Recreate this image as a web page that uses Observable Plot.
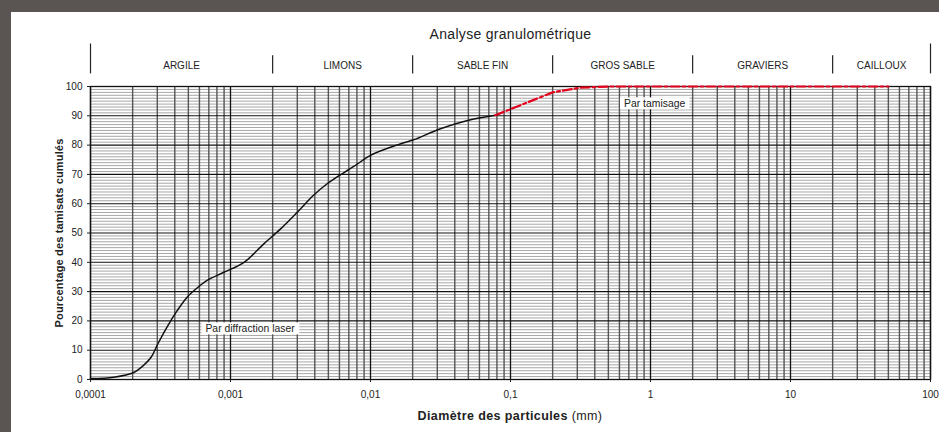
<!DOCTYPE html>
<html><head><meta charset="utf-8">
<script src="https://cdn.jsdelivr.net/npm/d3@7"></script>
<script src="https://cdn.jsdelivr.net/npm/@observablehq/plot@0.6"></script>
<style>
html,body{margin:0;padding:0;background:#fff;overflow:hidden}
#topbar{position:fixed;left:0;top:0;width:1200px;height:12px;background:#5a5552;z-index:2}
#leftbar{position:fixed;left:0;top:0;height:600px;width:11px;background:#5a5552;z-index:2}
#panel{position:fixed;left:11px;top:12px;width:1200px;height:600px;background:#fff}
svg{font-family:"Liberation Sans",Arial,sans-serif}
</style></head><body><div id="topbar"></div><div id="leftbar"></div><div id="panel"></div>
<script>
const title = "Analyse granulométrique";
const classNames = ["ARGILE", "LIMONS", "SABLE FIN", "GROS SABLE", "GRAVIERS", "CAILLOUX"];
const classBounds = [0.0001, 0.002, 0.02, 0.2, 2, 20, 100];
const laserSize = [0.0001, 0.000147, 0.000204, 0.000234, 0.000271, 0.000303, 0.000357, 0.000416, 0.00049, 0.00058, 0.00068, 0.000896, 0.00125, 0.00173, 0.00228, 0.003, 0.0039, 0.0049, 0.0055, 0.0076, 0.01, 0.0163, 0.0203, 0.0316, 0.0494, 0.078];
const laserPct  = [0.3, 0.8, 2.4, 4.4, 7.6, 12.2, 18.4, 23.5, 28.1, 31.3, 33.8, 36.6, 40.0, 46.3, 51.4, 57.1, 62.8, 66.8, 68.5, 72.7, 76.5, 80.4, 81.8, 85.6, 88.4, 90.2];
const sieveSize = [0.078, 0.2, 0.315, 0.5, 1, 2, 5, 10, 20, 50];
const sievePct  = [90.2, 98.0, 99.6, 100, 100, 100, 100, 100, 100, 100];
const xTicks = [0.0001, 0.001, 0.01, 0.1, 1, 10, 100];
const xTickLabels = ["0,0001", "0,001", "0,01", "0,1", "1", "10", "100"];
const yTicks = [0, 10, 20, 30, 40, 50, 60, 70, 80, 90, 100];
const yLabel = "Pourcentage des tamisats cumulés";
const xLabelBold = "Diamètre des particules";
const xLabelUnit = " (mm)";
const notes = ["Par diffraction laser", "Par tamisage"];
const noteX = [0.00138, 1.07];
const noteY = [17.4, 94.2];

const laser = laserSize.map((d, i) => ({d, p: laserPct[i]}));
const sieve = sieveSize.map((d, i) => ({d, p: sievePct[i]}));
const classes = classNames.map((name, i) => ({name, mid: Math.sqrt(classBounds[i] * classBounds[i + 1])}));
const seps = classBounds.map((b, i) => ({b, top: (i === 0 || i === classBounds.length - 1) ? 114.5 : 110.5}));
const noteData = notes.map((t, i) => ({t, x: noteX[i], y: noteY[i]}));

// gridline positions from the scale domain
const minorX = [];
for (let e = -4; e < 2; e++) for (let k = 2; k <= 9; k++) minorX.push(k * Math.pow(10, e));
const minorY = d3.range(0, 101).filter(v => v % 10 !== 0);

const fmtX = new Map(xTicks.map((t, i) => [t, xTickLabels[i]]));

const plot = Plot.plot({
  width: 928,
  height: 420,
  marginLeft: 79,
  marginRight: 9,
  marginTop: 74,
  marginBottom: 53,
  style: {fontFamily: "'Liberation Sans', Arial, sans-serif", fontSize: "10px", color: "#222", background: "white", overflow: "visible", maxWidth: "none"},
  x: {type: "log", domain: [0.0001, 100]},
  y: {domain: [0, 100]},
  marks: [
    Plot.ruleY(minorY, {stroke: "#a6a6a6", strokeWidth: 1}),
    Plot.ruleX(minorX, {stroke: "#555", strokeWidth: 1.4}),
    Plot.ruleY(yTicks, {stroke: "#111", strokeWidth: 1.1}),
    Plot.ruleX(xTicks, {stroke: "#111", strokeWidth: 1.3}),
    Plot.frame({stroke: "#111", strokeWidth: 1.3}),
    Plot.axisX({ticks: xTicks, tickFormat: d => fmtX.get(d), tickSize: 3, tickPadding: 8, label: null, fontSize: 10, fill: "#222"}),
    Plot.axisY({ticks: yTicks, tickSize: 3, tickPadding: 5, label: null, fontSize: 10, fill: "#222"}),
    Plot.line(laser, {x: "d", y: "p", stroke: "#111", strokeWidth: 1.5, curve: "catmull-rom"}),
    Plot.line(sieve, {x: "d", y: "p", stroke: "#e3001b", strokeWidth: 2.2, strokeDasharray: "9,3,3,3"}),
    Plot.ruleX(seps, {x: "b", y1: "top", y2: 104.3, stroke: "#222", strokeWidth: 1.2}),
    Plot.text(classes, {x: "mid", frameAnchor: "top", lineAnchor: "middle", dy: -21, text: "name", fontSize: 10, fill: "#222"}),
    Plot.text([title], {frameAnchor: "top", lineAnchor: "middle", dy: -52, fontSize: 14, fill: "#222"}),
    Plot.text([yLabel], {frameAnchor: "left", textAnchor: "middle", lineAnchor: "middle", rotate: -90, dx: -31, fontSize: 11, fontWeight: "bold", fill: "#222"}),
    Plot.text(noteData, {x: "x", y: "y", text: "t", fontSize: 10.4, fill: "#222"})
  ]
});
document.getElementById("panel").appendChild(plot);

const svg = d3.select(plot.tagName === "svg" ? plot : plot.querySelector("svg"));
svg.selectAll("text").filter(function() { return this.textContent === title; }).style("letter-spacing", "0.3px");
svg.selectAll("text").filter(function() { return this.textContent === yLabel; }).style("letter-spacing", "0.15px");

// white boxes behind annotations
svg.selectAll("text").filter(function() { return notes.includes(this.textContent); }).each(function() {
  const bb = this.getBBox();
  const r = document.createElementNS("http://www.w3.org/2000/svg", "rect");
  r.setAttribute("x", bb.x - 4);
  r.setAttribute("y", bb.y - 0.5);
  r.setAttribute("width", bb.width + 8);
  r.setAttribute("height", bb.height + 1);
  r.setAttribute("fill", "white");
  r.setAttribute("stroke", "none");
  const tr = this.getAttribute("transform");
  if (tr) r.setAttribute("transform", tr);
  this.parentNode.insertBefore(r, this);
});

// x axis label with bold and regular parts
const xs = plot.scale("x").range;
const cx = (xs[0] + xs[1]) / 2;
const lab = svg.append("text").attr("x", cx).attr("y", 408).attr("text-anchor", "middle")
  .attr("font-size", 12.5).attr("fill", "#222").style("letter-spacing", "0.4px");
lab.append("tspan").attr("font-weight", "bold").text(xLabelBold);
lab.append("tspan").text(xLabelUnit);
</script></body></html>
